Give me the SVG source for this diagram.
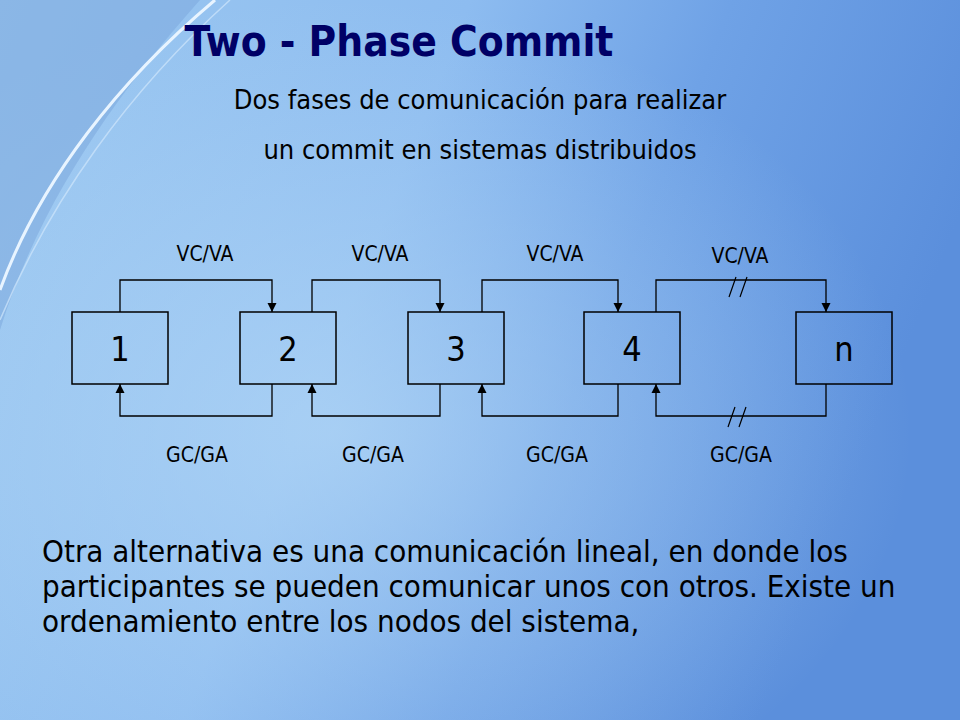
<svg xmlns="http://www.w3.org/2000/svg" width="960" height="720" viewBox="0 0 960 720">
<defs>
<linearGradient id="bg" x1="0" y1="0" x2="1" y2="0.3">
<stop offset="0" stop-color="#9cc8f0"/><stop offset="0.45" stop-color="#8dbcf0"/><stop offset="0.7" stop-color="#6fa2e6"/><stop offset="1" stop-color="#5b8fdc"/>
</linearGradient>
<radialGradient id="glow" cx="0.35" cy="0.6" r="0.6"><stop offset="0" stop-color="#b4d8f6" stop-opacity="0.7"/><stop offset="1" stop-color="#b4d8f6" stop-opacity="0"/></radialGradient>
<marker id="ar" viewBox="0 0 10 10" refX="10" refY="5" markerWidth="7" markerHeight="7" orient="auto"><path d="M0,0L10,5L0,10z" fill="#000"/></marker>
<style>
.b{fill:none;stroke:#000;stroke-width:1.5}
.c{fill:none;stroke:#000;stroke-width:1.3;marker-end:url(#ar)}
.s{fill:none;stroke:#000;stroke-width:1.2}
.n{font-family:"DejaVu Sans Condensed","DejaVu Sans",sans-serif;font-size:34px;text-anchor:middle}
.l{font-family:"DejaVu Sans Condensed","DejaVu Sans",sans-serif;font-size:21px;text-anchor:middle}
.t{font-family:"DejaVu Sans Condensed","DejaVu Sans",sans-serif;font-size:27px;text-anchor:middle}
.p{font-family:"DejaVu Sans Condensed","DejaVu Sans",sans-serif;font-size:31px}
</style>
</defs>
<rect width="960" height="720" fill="url(#bg)"/>
<rect width="960" height="720" fill="url(#glow)"/>
<path d="M0,0 H200 C120,90 40,200 0,330 Z" fill="#7aa6dc" opacity="0.5"/>
<path d="M215,0 C120,80 40,180 0,290" fill="none" stroke="#e8f4ff" stroke-width="3"/>
<path d="M230,0 C130,90 50,200 0,320" fill="none" stroke="#cfe6fb" stroke-width="1.5" opacity="0.7"/>
<text x="399" y="56" font-family="DejaVu Sans Condensed,DejaVu Sans,sans-serif" font-weight="bold" font-size="42" fill="#000066" text-anchor="middle">Two - Phase Commit</text>
<text x="480" y="109" class="t">Dos fases de comunicación para realizar</text>
<text x="480" y="159" class="t">un commit en sistemas distribuidos</text>
<g id="n1"><rect x="72" y="312" width="96" height="72" class="b"/><text x="120" y="361" class="n">1</text></g>
<g id="n2"><rect x="240" y="312" width="96" height="72" class="b"/><text x="288" y="361" class="n">2</text></g>
<g id="n3"><rect x="408" y="312" width="96" height="72" class="b"/><text x="456" y="361" class="n">3</text></g>
<g id="n4"><rect x="584" y="312" width="96" height="72" class="b"/><text x="632" y="361" class="n">4</text></g>
<g id="nn"><rect x="796" y="312" width="96" height="72" class="b"/><text x="844" y="361" class="n">n</text></g>
<g id="connectors">
<path d="M120,312V280H272V312" class="c"/>
<path d="M312,312V280H440V312" class="c"/>
<path d="M482,312V280H618V312" class="c"/>
<path d="M656,312V280H826V312" class="c"/>
<path d="M272,384V416H120V384" class="c"/>
<path d="M440,384V416H312V384" class="c"/>
<path d="M618,384V416H482V384" class="c"/>
<path d="M826,384V416H656V384" class="c"/>
<path d="M729,297L736,277M740,297L747,277" class="s"/>
<path d="M728,427L735,407M739,427L746,407" class="s"/>
</g>
<text x="205" y="261" class="l">VC/VA</text>
<text x="380" y="261" class="l">VC/VA</text>
<text x="555" y="261" class="l">VC/VA</text>
<text x="740" y="263" class="l">VC/VA</text>
<text x="197" y="462" class="l">GC/GA</text>
<text x="373" y="462" class="l">GC/GA</text>
<text x="557" y="462" class="l">GC/GA</text>
<text x="741" y="462" class="l">GC/GA</text>
<text x="42" y="562" class="p">Otra alternativa es una comunicación lineal, en donde los</text>
<text x="42" y="597" class="p">participantes se pueden comunicar unos con otros. Existe un</text>
<text x="42" y="632" class="p">ordenamiento entre los nodos del sistema,</text>
</svg>
